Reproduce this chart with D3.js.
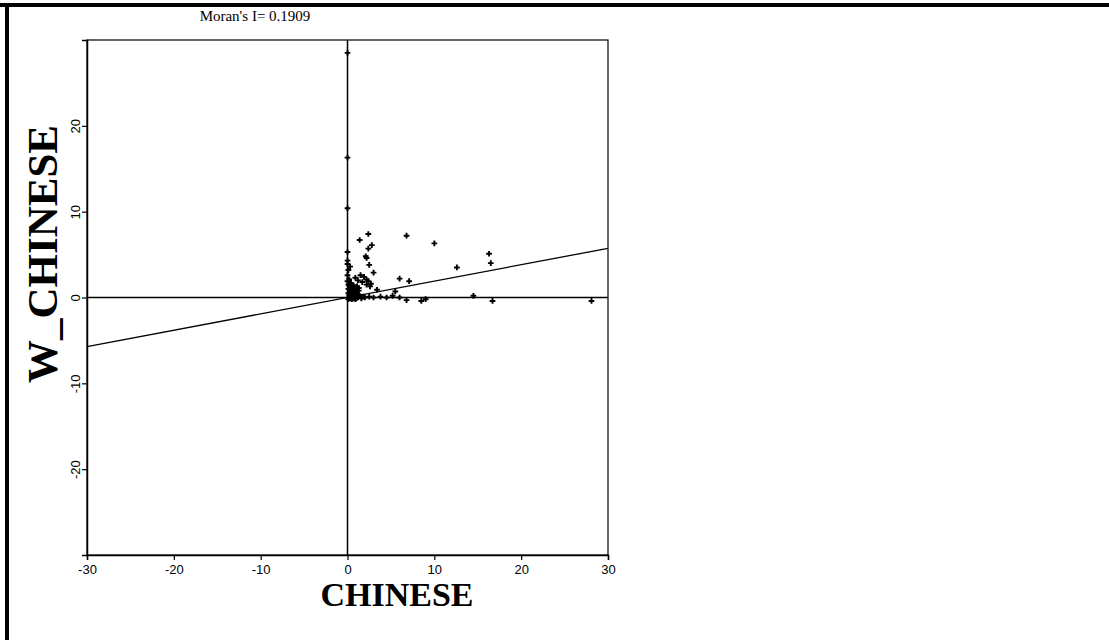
<!DOCTYPE html>
<html>
<head>
<meta charset="utf-8">
<script src="https://cdn.jsdelivr.net/npm/d3@7"></script>
<style>
  body { margin: 0; background: #fff; }
  svg { display: block; }
</style>
</head>
<body>
<svg id="chart" width="1109" height="640"></svg>
<script>
// Moran scatter plot values
var moranI = 0.1909;
var xTicks = [-30, -20, -10, 0, 10, 20, 30];
var yTicks = [-20, -10, 0, 10, 20];

// CHINESE (standardised) for each unit
var chinese = [
  0.0, 0.0, 0.0, 0.0, 0.0, 0.0, 0.1, 0.0, 0.3,
  1.4, 2.4, 2.8, 2.4, 2.1, 2.2, 2.5, 3.0,
  6.8, 10.0, 12.6, 16.3, 16.5, 14.5, 16.7, 28.1,
  6.0, 7.1, 5.5, 6.8, 8.5, 3.4, 2.2, 2.6,
  1.5, 1.9, 2.2, 2.4, 2.7, 1.2, 1.7, 0.9,
  1.0, 1.5, 2.0, 2.5, 3.0, 3.8, 4.5, 5.2, 6.0, 9.0,
  0.1, 0.2, 0.4, 0.5, 0.7, 0.9, 1.1, 1.3,
  0.1, 0.3, 0.5, 0.7, 0.9, 1.1, 1.3,
  0.1, 0.3, 0.5, 0.7, 0.9, 1.1,
  0.2, 0.4, 0.6, 0.8, 1.0, 1.2,
  0.1, 0.3, 0.5, 0.7, 0.9,
  0.0, 0.2, 0.4, 0.6, 0.8, 1.0, 1.2, 1.4, 1.6, 1.8
];
// W_CHINESE (spatial lag) for each unit
var wChinese = [
  28.5, 16.3, 10.4, 5.3, 4.3, 3.9, 3.2, 2.6, 3.6,
  6.7, 7.4, 6.1, 5.7, 4.8, 4.6, 3.8, 2.9,
  7.2, 6.3, 3.5, 5.1, 4.0, 0.2, -0.4, -0.4,
  2.2, 1.9, 0.7, -0.3, -0.4, 0.9, 1.5, 1.3,
  2.6, 2.4, 2.1, 1.9, 1.6, 2.0, 1.8, 2.3,
  0.0, 0.1, 0.0, 0.1, 0.0, 0.1, 0.0, 0.2, 0.0, -0.2,
  1.5, 1.4, 1.5, 1.3, 1.4, 1.2, 1.3, 1.1,
  1.0, 0.9, 1.0, 0.8, 0.9, 0.7, 0.8,
  0.5, 0.6, 0.4, 0.5, 0.3, 0.4,
  0.2, 0.1, 0.2, 0.0, 0.1, 0.0,
  -0.2, -0.1, -0.2, -0.1, -0.2,
  1.9, 2.1, 1.7, 1.2, 0.6, -0.1, 0.3, 0.2, -0.1, 0.1
];

var svg = d3.select("#chart");
var plotL = 87, plotR = 608, plotT = 40, plotB = 555;

var x = d3.scaleLinear().domain([-30, 30]).range([plotL, plotR]);
var y = d3.scaleLinear().domain([-30, 30]).range([plotB, plotT]);

// scan frame lines
svg.append("rect").attr("x", 0).attr("y", 3).attr("width", 1109).attr("height", 4).attr("fill", "#000");
svg.append("rect").attr("x", 5).attr("y", 3).attr("width", 4).attr("height", 637).attr("fill", "#000");

// plot box
svg.append("rect")
  .attr("x", plotL).attr("y", plotT)
  .attr("width", plotR - plotL).attr("height", plotB - plotT)
  .attr("fill", "none").attr("stroke", "#000").attr("stroke-width", 1.2);

// axes
var xAxis = svg.append("g")
  .attr("transform", "translate(0," + plotB + ")")
  .call(d3.axisBottom(x).tickValues(xTicks).tickSize(5).tickPadding(5));
var yAxis = svg.append("g")
  .attr("transform", "translate(" + plotL + ",0)")
  .call(d3.axisLeft(y).tickValues(yTicks).tickSize(5));

[xAxis, yAxis].forEach(function(g) {
  g.select(".domain").attr("stroke", "#000").attr("stroke-width", 1.5);
  g.selectAll(".tick line").attr("stroke", "#000").attr("stroke-width", 1.2);
  g.selectAll("text")
    .attr("font-family", "Liberation Sans, Arial, sans-serif")
    .attr("font-size", 13).attr("fill", "#000");
});
xAxis.selectAll(".tick text").text(function(d) { return d; });
yAxis.selectAll(".tick text")
  .text(function(d) { return d; })
  .attr("x", null).attr("dy", null)
  .attr("text-anchor", "middle")
  .attr("transform", "translate(-7,0) rotate(-90)")
  .attr("y", 0);

// quadrant lines through the origin
svg.append("line")
  .attr("x1", x(-30)).attr("x2", x(30)).attr("y1", y(0)).attr("y2", y(0))
  .attr("stroke", "#000").attr("stroke-width", 1.5);
svg.append("line")
  .attr("x1", x(0)).attr("x2", x(0)).attr("y1", y(30)).attr("y2", y(-30))
  .attr("stroke", "#000").attr("stroke-width", 1.5);

// regression line, slope = Moran's I
svg.append("line")
  .attr("x1", x(-30)).attr("y1", y(-30 * moranI))
  .attr("x2", x(30)).attr("y2", y(30 * moranI))
  .attr("stroke", "#000").attr("stroke-width", 1.3);

// points
var sym = d3.symbol().type(d3.symbolCross).size(18);
svg.append("g").selectAll("path")
  .data(chinese)
  .enter().append("path")
  .attr("transform", function(d, i) { return "translate(" + x(d) + "," + y(wChinese[i]) + ")"; })
  .attr("d", sym)
  .attr("fill", "#000");

// texts
svg.append("text")
  .attr("x", 255).attr("y", 21)
  .attr("text-anchor", "middle")
  .attr("font-family", "Liberation Serif, Times New Roman, serif")
  .attr("font-size", 15)
  .text("Moran's I= " + moranI);

svg.append("text")
  .attr("x", 397).attr("y", 606)
  .attr("text-anchor", "middle")
  .attr("font-family", "Liberation Serif, Times New Roman, serif")
  .attr("font-weight", "bold")
  .attr("font-size", 34)
  .text("CHINESE");

svg.append("text")
  .attr("transform", "translate(57,254) rotate(-90)")
  .attr("text-anchor", "middle")
  .attr("font-family", "Liberation Serif, Times New Roman, serif")
  .attr("font-weight", "bold")
  .attr("font-size", 43)
  .text("W_CHINESE");
</script>
</body>
</html>
